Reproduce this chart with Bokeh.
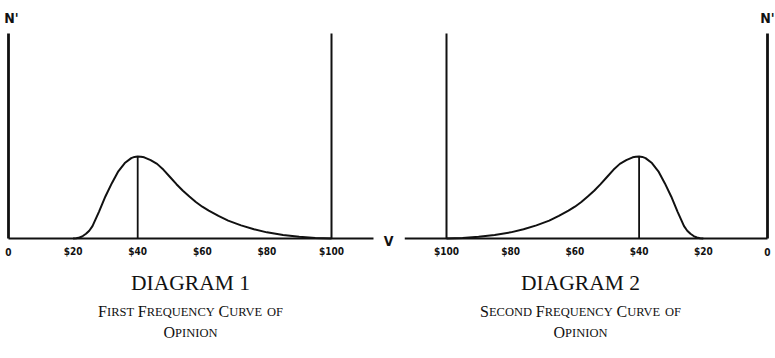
from bokeh.plotting import figure
from bokeh.models import Range1d, ColumnDataSource
from bokeh.core.properties import value
from bokeh.embed import file_html
from bokeh.resources import INLINE

# ---- data -------------------------------------------------------------
# opinion values (dollars) and the relative frequency N' of each opinion
first_values = [20, 21, 22, 23, 24, 25, 26, 28, 30, 32, 34, 36, 38, 39, 40,
                41, 42, 44, 46, 48, 50, 52, 54, 56, 58, 60, 62, 65, 68, 72,
                76, 80, 85, 90, 95, 100]
first_freq = [0, 0.1, 0.5, 1.2, 2.3, 3.8, 6.0, 13.0, 20.5, 27.0, 32.8, 36.8,
              39.2, 39.8, 40.0, 39.9, 39.6, 38.2, 36.4, 33.5, 30.0, 26.5,
              23.3, 20.5, 17.8, 15.5, 13.6, 11.0, 8.7, 6.4, 4.5, 3.0, 1.7,
              0.8, 0.25, 0]

second_values = [20, 21, 22, 23, 24, 25, 26, 28, 30, 32, 34, 36, 38, 39, 40,
                 41, 42, 44, 46, 48, 50, 52, 54, 56, 58, 60, 62, 65, 68, 72,
                 76, 80, 85, 90, 95, 100]
second_freq = [0, 0.1, 0.5, 1.2, 2.3, 3.8, 6.0, 13.0, 20.5, 27.0, 32.8, 36.8,
               39.2, 39.8, 40.0, 39.9, 39.6, 38.2, 36.4, 33.5, 30.0, 26.5,
               23.3, 20.5, 17.8, 15.5, 13.6, 11.0, 8.7, 6.4, 4.5, 3.0, 1.7,
               0.8, 0.25, 0]

tick_values = [0, 20, 40, 60, 80, 100]
tick_labels = ["0", "$20", "$40", "$60", "$80", "$100"]

axis_top = 100        # height of the N' axes
axis_extent = 113     # how far the V axis runs past $100

titles = ["DIAGRAM 1", "DIAGRAM 2"]
subtitles = ["First Frequency Curve of", "Second Frequency Curve of"]
subtitles2 = ["Opinion", "Opinion"]

# ---- figure -------------------------------------------------------------
W, H = 775, 358
p = figure(width=W, height=H, output_backend="svg", toolbar_location=None,
           x_range=Range1d(-8 / 3.23, 767 / 3.23),
           y_range=Range1d(-120 / 2.05, 238 / 2.05),
           x_axis_location=None, y_axis_location=None,
           min_border=0, title=None)
p.outline_line_color = None
p.background_fill_color = "white"
p.border_fill_color = "white"
for g in p.grid:
    g.visible = False

# right-hand diagram runs from $100 on the left to 0 on the right
p.extra_x_ranges = {"right": Range1d(767 / 3.21, -8 / 3.21),
                    "page": Range1d(0, W)}
p.extra_y_ranges = {"page": Range1d(H, 0)}

INK = "#111111"
LABEL_FONT = value("'DejaVu Sans Condensed', 'Liberation Sans', sans-serif")

def draw_panel(values, freq, xr):
    kw = {} if xr is None else {"x_range_name": xr}
    # V axis
    p.line(x=[0, axis_extent], y=[0, 0], line_color=INK, line_width=2.2, **kw)
    # N' axis at 0 and the boundary line at $100
    p.segment(x0=[0, 100], y0=[0, 0], x1=[0, 100], y1=[axis_top, axis_top],
              line_color=INK, line_width=[2.8, 2.0], **kw)
    # frequency curve
    p.line(x=values, y=freq, line_color=INK, line_width=2.0, **kw)
    # ordinate at the mode
    m = freq.index(max(freq))
    p.segment(x0=[values[m]], y0=[0], x1=[values[m]], y1=[freq[m]],
              line_color=INK, line_width=1.8, **kw)
    # tick labels
    p.text(x=tick_values, y=[251] * len(tick_values), text=tick_labels,
           y_range_name="page", text_align="center",
           text_baseline="alphabetic", text_font=LABEL_FONT,
           text_font_style="bold", text_font_size="10px", text_color=INK,
           **kw)

draw_panel(first_values, first_freq, None)
draw_panel(second_values, second_freq, "right")

lab = dict(x_range_name="page", y_range_name="page", text_color=INK,
           text_font=LABEL_FONT, text_font_style="bold",
           text_baseline="middle")
p.text(x=[11], y=[17], text=["N'"], text_align="center", text_font_size="14px", **lab)
p.text(x=[767], y=[17], text=["N'"], text_align="center", text_font_size="14px", **lab)
p.text(x=[388], y=[240], text=["V"], text_align="center", text_font_size="14px", **lab)

# ---- captions (small capitals built from two type sizes) --------------------
SERIF = "Liberation Serif"
ADV = {'A': .722, 'B': .667, 'C': .667, 'D': .722, 'E': .611, 'F': .556,
       'G': .722, 'H': .722, 'I': .333, 'J': .389, 'K': .722, 'L': .611,
       'M': .889, 'N': .722, 'O': .722, 'P': .556, 'Q': .722, 'R': .667,
       'S': .556, 'T': .611, 'U': .722, 'V': .722, 'W': .944, 'X': .722,
       'Y': .722, 'Z': .611, ' ': .25}

def adv(s, size):
    return sum(ADV.get(c, .7) for c in s) * size

def small_caps(line, cx, base, big, small):
    segs = []
    words = line.split(" ")
    for i, w in enumerate(words):
        rest = w
        if w[0].isupper():
            segs.append((w[0], big))
            rest = w[1:]
        if rest:
            segs.append((rest.upper(), small))
        if i < len(words) - 1:
            segs.append((" ", small * 1.2))
    total = sum(adv(t, s) for t, s in segs)
    x = cx - total / 2
    src = {"x": [], "y": [], "t": [], "s": []}
    for t, s in segs:
        if t.strip():
            src["x"].append(x)
            src["y"].append(base)
            src["t"].append(t)
            src["s"].append(f"{s}px")
        x += adv(t, s)
    p.text(x="x", y="y", text="t", text_font_size="s",
           source=ColumnDataSource(src), x_range_name="page",
           y_range_name="page", text_font=value(SERIF), text_color=INK,
           text_align="left", text_baseline="alphabetic")

centers = [190, 580]
for c, t, s1, s2 in zip(centers, titles, subtitles, subtitles2):
    p.text(x=[c], y=[282], text=[t], x_range_name="page", y_range_name="page",
           text_font=value(SERIF), text_font_size="21.5px", text_color=INK,
           text_align="center", text_baseline="alphabetic")
    small_caps(s1, c, 311, 16, 12.5)
    small_caps(s2, c, 332, 16, 12.5)

open("out.html", "w").write(file_html(p, INLINE))
